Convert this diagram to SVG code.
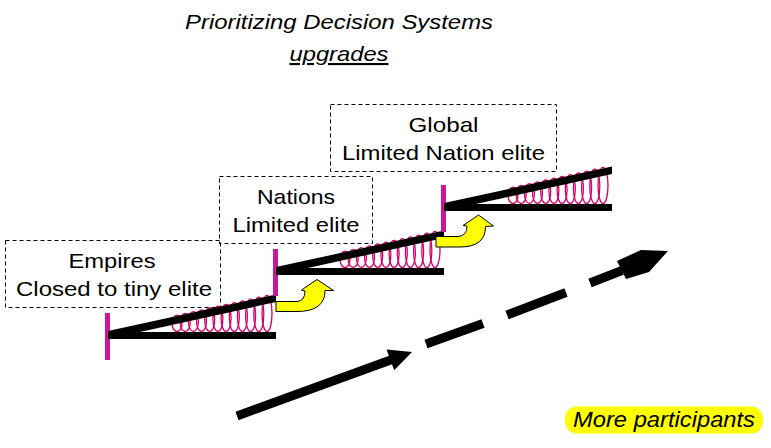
<svg xmlns="http://www.w3.org/2000/svg" xmlns:xlink="http://www.w3.org/1999/xlink" width="771" height="448" viewBox="0 0 771 448">
<style>
.t{font-family:"Liberation Sans",Arial,sans-serif;font-size:21px;fill:#000;text-anchor:middle}
.ti{font-style:italic}
.box{fill:none;stroke:#000;stroke-width:1;stroke-dasharray:4 3}
.spr{fill:none;stroke:#d4006e;stroke-width:1.3}
.mag{fill:#c21a9a}
.blk{fill:#000}
.dash{stroke:#000;stroke-width:9;stroke-linecap:butt;fill:none}
.yarr{fill:#ffff00;stroke:#000;stroke-width:1}
</style>
<defs>
<g id="stairUnit">
<g class="spr">
<ellipse cx="69" cy="-12.67" rx="5" ry="8.17"/>
<ellipse cx="77.2" cy="-13.57" rx="5" ry="9.07"/>
<ellipse cx="85.4" cy="-14.47" rx="5" ry="9.97"/>
<ellipse cx="93.5" cy="-15.35" rx="5" ry="10.85"/>
<ellipse cx="101.7" cy="-16.25" rx="5" ry="11.75"/>
<ellipse cx="109.9" cy="-17.15" rx="5" ry="12.65"/>
<ellipse cx="118.1" cy="-18.04" rx="5" ry="13.54"/>
<ellipse cx="126.3" cy="-18.94" rx="5" ry="14.44"/>
<ellipse cx="134.4" cy="-19.83" rx="5" ry="15.33"/>
<ellipse cx="142.6" cy="-20.72" rx="5" ry="16.22"/>
<ellipse cx="150.8" cy="-21.62" rx="5" ry="17.12"/>
<ellipse cx="159" cy="-22.52" rx="5" ry="18.02"/>
</g>
<rect class="mag" x="-3" y="-23" width="5" height="47"/>
<rect class="blk" x="0" y="-4" width="168" height="7"/>
<polygon class="blk" points="0,-5 168,-41.5 168,-34 0,3"/>
</g>
</defs>

<g id="title">
<text class="t ti" x="339" y="28.5" textLength="308" lengthAdjust="spacingAndGlyphs">Prioritizing Decision Systems</text>
<text class="t ti" x="339" y="61" textLength="99" lengthAdjust="spacingAndGlyphs" text-decoration="underline">upgrades</text>
</g>

<g id="stage-empires">
<use xlink:href="#stairUnit" transform="translate(108,336)"/>
</g>
<g id="stage-nations">
<use xlink:href="#stairUnit" transform="translate(276,272)"/>
</g>
<g id="stage-global">
<use xlink:href="#stairUnit" transform="translate(444,208)"/>
</g>

<g id="box-empires">
<rect class="box" x="5.5" y="240.5" width="215" height="67"/>
<text class="t" x="112" y="268" textLength="87" lengthAdjust="spacingAndGlyphs">Empires</text>
<text class="t" x="114" y="296" textLength="196" lengthAdjust="spacingAndGlyphs">Closed to tiny elite</text>
</g>
<g id="box-nations">
<rect class="box" x="219.5" y="176.5" width="153" height="67"/>
<text class="t" x="296" y="204" textLength="78" lengthAdjust="spacingAndGlyphs">Nations</text>
<text class="t" x="296" y="232" textLength="127" lengthAdjust="spacingAndGlyphs">Limited elite</text>
</g>
<g id="box-global">
<rect class="box" x="330.5" y="104.5" width="226" height="67"/>
<text class="t" x="443.5" y="132" textLength="70" lengthAdjust="spacingAndGlyphs">Global</text>
<text class="t" x="443.5" y="160" textLength="203" lengthAdjust="spacingAndGlyphs">Limited Nation elite</text>
</g>

<g id="connectors">
<path class="yarr" d="M276,301.5 L297,301.5 Q305,301 305,291 L301.5,290 L317,279.5 L333.5,290.5 L325,290.5 Q325,311.5 297,311.5 L276,311.5 Z"/>
<path class="yarr" d="M436,236.5 L458,236.5 Q467,236 467,226 L463,225.5 L478.5,215 L493.5,226 L485.5,226.5 Q485.5,247 460,247 L436,247 Z"/>
<g id="progress-arrow">
<line class="dash" x1="237" y1="416" x2="392" y2="359.5"/>
<polygon class="blk" points="386.6,349.6 412,352 394.2,370.2"/>
<line class="dash" x1="426" y1="344" x2="483" y2="323.5"/>
<line class="dash" x1="507" y1="315" x2="566" y2="292.5"/>
<line class="dash" x1="590" y1="283" x2="622" y2="270.5"/>
<polygon class="blk" points="617,261 641,250 668,251 649,272 626,279"/>
</g>
</g>

<g id="label-participants">
<rect x="565" y="406.5" width="198" height="27" rx="12" fill="#ffff00"/>
<text class="t ti" x="664" y="427" font-size="22" style="font-size:22px" textLength="182" lengthAdjust="spacingAndGlyphs">More participants</text>
</g>
</svg>
